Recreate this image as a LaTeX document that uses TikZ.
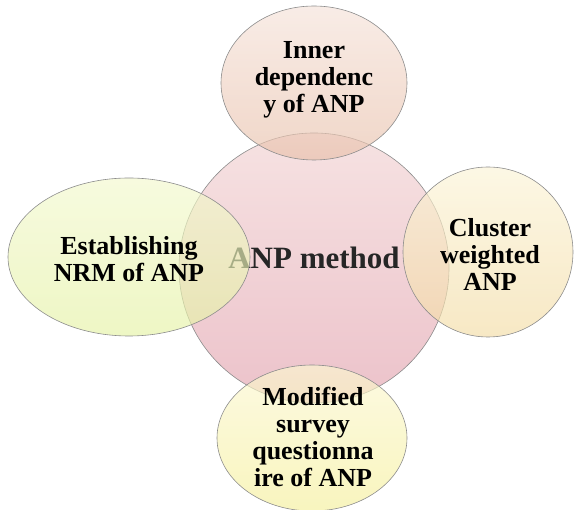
\documentclass[tikz,border=0pt]{standalone}
\usepackage{fontspec}
\setmainfont{Liberation Serif}
\definecolor{cTop}{RGB}{246,226,226}
\definecolor{cBot}{RGB}{236,194,202}
\definecolor{tTop}{RGB}{245,226,217}
\definecolor{tBot}{RGB}{232,192,170}
\definecolor{lTop}{RGB}{242,248,205}
\definecolor{lBot}{RGB}{229,242,165}
\definecolor{rTop}{RGB}{251,243,214}
\definecolor{rBot}{RGB}{243,220,165}
\definecolor{bTop}{RGB}{251,248,209}
\definecolor{bBot}{RGB}{245,239,155}
\begin{document}
\begin{tikzpicture}[x=1pt,y=-1pt,
  blob/.style={draw=black!45, line width=0.6pt, fill opacity=0.65},
  lbl/.style={font=\bfseries\fontsize{26}{27}\selectfont, align=center, text=black}]
\useasboundingbox (0,0) rectangle (574,510);
% central circle
\shade[draw=black!45, line width=0.6pt, top color=cTop, bottom color=cBot]
  (314,268) ellipse [x radius=135, y radius=135];
\node[font=\bfseries\fontsize{31}{31}\selectfont, text=black!85] (center) at (314,258) {ANP method};
% satellites
\shade[blob, top color=tTop, bottom color=tBot]
  (314,83) ellipse [x radius=93, y radius=77];
\shade[blob, top color=lTop, bottom color=lBot]
  (129,257) ellipse [x radius=121, y radius=79];
\shade[blob, top color=rTop, bottom color=rBot]
  (488,252) ellipse [x radius=85, y radius=85];
\shade[blob, top color=bTop, bottom color=bBot]
  (312,438) ellipse [x radius=95, y radius=73];
% labels
\node[lbl] (top) at (314,80) {Inner\\dependenc\\y of ANP};
\node[lbl] (left) at (129,259) {Establishing\\NRM of ANP};
\node[lbl] (right) at (490,254) {Cluster\\weighted\\ANP};
\node[lbl] (bottom) at (313,437) {Modified\\survey\\questionna\\ire of ANP};
\end{tikzpicture}
\end{document}
